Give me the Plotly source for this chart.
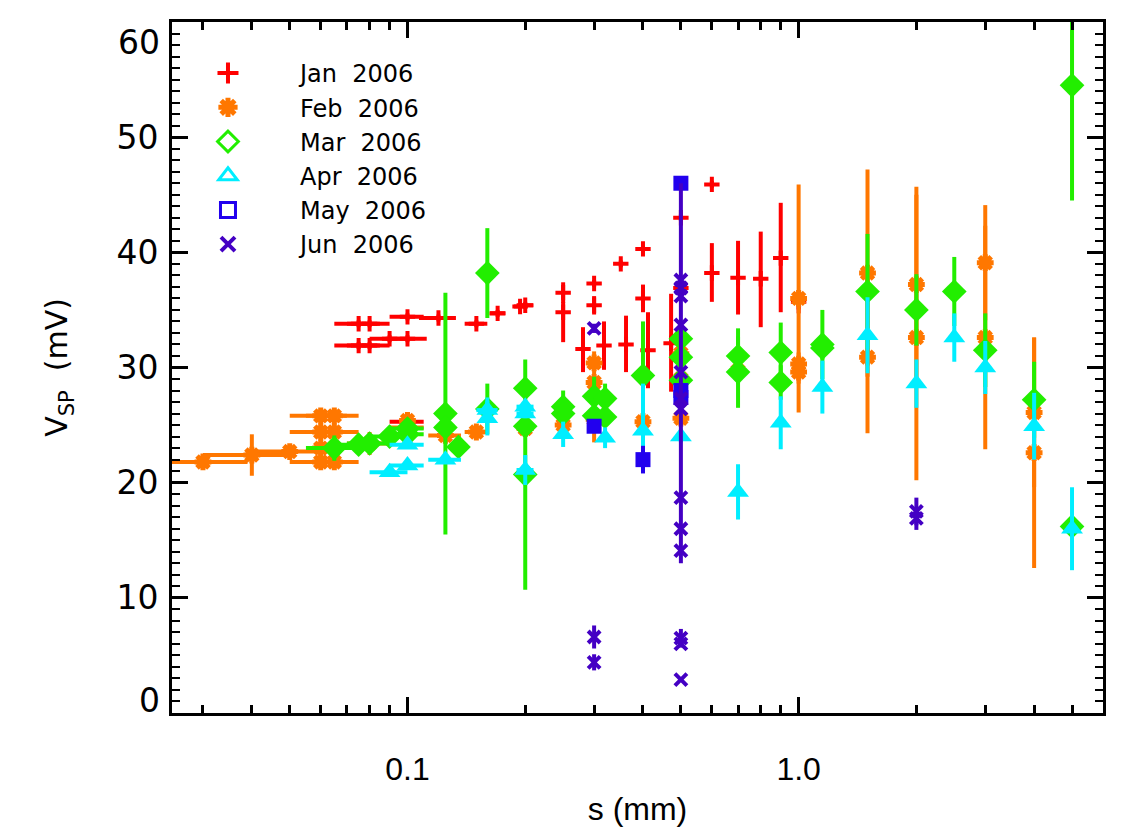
import plotly.graph_objects as go
import math

# ---------------- data ----------------
# Jan 2006
jan_s   = [0.075, 0.08, 0.075, 0.08, 0.09, 0.1, 0.1, 0.12, 0.15, 0.17, 0.194, 0.2, 0.1,
           0.25, 0.25, 0.281, 0.3, 0.3, 0.318, 0.351, 0.362, 0.4, 0.4, 0.412, 0.472,
           0.5, 0.5, 0.6, 0.6, 0.7, 0.8, 0.9, 1.0]
jan_v   = [33.8, 33.8, 31.9, 31.9, 32.5, 32.5, 34.4, 34.3, 33.8, 34.7, 35.3, 35.4, 25.3,
           36.5, 34.8, 31.6, 37.3, 35.4, 31.9, 39.0, 32.0, 40.3, 36.0, 31.5, 32.1,
           43.0, 36.9, 45.9, 38.2, 37.8, 37.7, 39.5, 35.7]
jan_ep  = [0.3, 0.3, 0.3, 0.3, 0.3, 0.3, 0.3, 0.3, 0.3, 0.3, 0.3, 0.3, 0.2,
           0.9, 0.9, 1.9, 0.3, 0.8, 2.1, 0.3, 2.5, 0.3, 1.2, 3.3, 4.3,
           0.3, 0.5, 0.3, 2.6, 3.2, 4.1, 4.8, 1.0]
jan_em  = [0.3, 0.3, 0.3, 0.3, 0.3, 0.3, 0.3, 0.3, 0.3, 0.3, 0.3, 0.3, 0.2,
           0.9, 2.6, 2.0, 0.3, 0.8, 2.1, 0.3, 2.4, 0.3, 1.2, 3.3, 4.2,
           0.3, 0.5, 0.3, 2.5, 3.2, 4.2, 4.7, 1.0]
jan_ex  = [0.01, 0.01, 0.01, 0.01, 0.01, 0.012, 0.01, 0.013, 0.01, 0.008, 0.007, 0.01, 0.01,
           0, 0, 0, 0, 0, 0, 0, 0, 0, 0, 0, 0, 0, 0, 0, 0, 0, 0, 0, 0]

# Feb 2006
feb_s   = [0.03, 0.04, 0.05, 0.06, 0.065, 0.06, 0.065, 0.06, 0.065, 0.06, 0.065, 0.08,
           0.1, 0.1, 0.125, 0.15, 0.2, 0.25, 0.3, 0.3, 0.3, 0.4, 0.5, 0.5, 0.5, 0.7,
           1.0, 1.0, 1.0, 1.5, 1.5, 2.0, 2.0, 3.0, 3.0, 4.0, 4.0]
feb_v   = [21.8, 22.4, 22.7, 25.8, 25.8, 24.4, 24.4, 23.0, 23.0, 21.8, 21.8, 23.4,
           25.4, 24.8, 24.1, 24.4, 24.7, 25.0, 30.4, 28.7, 25.5, 25.3, 31.2, 29.0, 25.6, 29.7,
           36.0, 30.3, 29.6, 38.2, 30.9, 37.2, 32.6, 39.1, 32.6, 26.1, 22.6]
feb_ey  = [0.3, 1.8, 0.3, 0.6, 0.6, 0.6, 0.6, 0.3, 0.3, 0.5, 0.5, 1.0,
           0.6, 0.3, 0.3, 0.3, 0.3, 0.5, 1.0, 0.7, 2.0, 0.5, 0.5, 0.5, 0.5, 0.5,
           9.9, 1.0, 1.0, 9.0, 6.6, 8.5, 12.4, 5.0, 9.7, 6.5, 10.0]
feb_exm = [0.006, 0.01, 0.01, 0.01, 0.01, 0.01, 0.01, 0, 0, 0.01, 0.01, 0.01,
           0, 0.01, 0.012, 0.01, 0.01, 0, 0, 0, 0, 0, 0, 0, 0, 0,
           0, 0, 0, 0, 0, 0, 0, 0, 0, 0, 0]
feb_exp = [0.009, 0.01, 0.01, 0.01, 0.01, 0.01, 0.01, 0, 0, 0.01, 0.01, 0.01,
           0, 0.01, 0.012, 0.01, 0.01, 0, 0, 0, 0, 0, 0, 0, 0, 0,
           0, 0, 0, 0, 0, 0, 0, 0, 0, 0, 0]

# Mar 2006
mar_s   = [0.065, 0.075, 0.08, 0.09, 0.1, 0.1, 0.125, 0.125, 0.135, 0.16, 0.16,
           0.2, 0.2, 0.2, 0.25, 0.25, 0.3, 0.3, 0.32, 0.32, 0.4, 0.5, 0.5, 0.5,
           0.7, 0.7, 0.9, 0.9, 1.15, 1.15, 1.5, 2.0, 2.5, 3.0, 4.0, 5.0, 5.0]
mar_v   = [23.0, 23.3, 23.4, 24.0, 24.2, 24.7, 26.0, 24.8, 23.1, 38.2, 26.4,
           28.2, 24.9, 20.7, 26.6, 26.0, 27.5, 25.8, 27.3, 25.7, 29.3, 32.5, 30.9, 28.9,
           31.0, 29.6, 31.3, 28.7, 32.0, 31.7, 36.6, 35.0, 36.6, 31.5, 27.2, 54.5, 16.2]
mar_ey  = [1.1, 0.3, 0.3, 0.3, 0.3, 0.3, 10.5, 0.5, 0.3, 3.9, 2.2,
           0.5, 0.5, 10.0, 1.4, 0.5, 1.7, 0.5, 1.3, 0.5, 4.7, 0.5, 0.5, 0.5,
           2.4, 3.1, 2.6, 1.5, 3.0, 1.0, 5.0, 3.1, 3.0, 3.2, 3.3, 10.0, 0.5]
mar_ex  = [0.01, 0.008, 0.01, 0.01, 0.01, 0.01, 0, 0, 0.006, 0, 0,
           0, 0, 0, 0, 0, 0, 0, 0, 0, 0, 0, 0, 0,
           0, 0, 0, 0, 0, 0, 0, 0, 0, 0, 0, 0, 0]

# Apr 2006
apr_s   = [0.09, 0.1, 0.1, 0.125, 0.16, 0.16, 0.2, 0.2, 0.2, 0.25, 0.32, 0.4, 0.5,
           0.7, 0.9, 1.15, 1.5, 2.0, 2.5, 3.0, 4.0, 5.0]
apr_v   = [20.9, 21.5, 23.3, 22.0, 26.3, 25.6, 26.6, 26.0, 21.1, 24.2, 23.9, 24.5, 24.0,
           19.2, 25.2, 28.3, 32.8, 28.6, 32.6, 30.0, 24.9, 16.0]
apr_ep  = [0.3, 0.3, 0.3, 0.3, 1.1, 1.5, 0.4, 0.4, 1.3, 1.1, 0.9, 4.1, 0.5,
           2.4, 2.3, 2.3, 3.3, 2.1, 2.1, 2.3, 2.9, 3.6]
apr_em  = [0.3, 0.3, 0.3, 0.3, 1.1, 1.5, 0.4, 0.4, 1.3, 1.1, 0.9, 1.4, 0.5,
           2.4, 2.3, 2.3, 3.3, 2.1, 2.1, 2.3, 2.9, 3.6]
apr_ex  = [0.01, 0.01, 0.01, 0.012, 0.01, 0, 0.01, 0.01, 0.01, 0, 0, 0, 0,
           0, 0, 0, 0, 0, 0, 0, 0, 0]

# May 2006
may_s   = [0.3, 0.4, 0.5, 0.5, 0.5]
may_v   = [24.9, 22.0, 46.0, 28.0, 27.4]
may_ey  = [0.5, 1.2, 0.3, 0.5, 0.5]

# Jun 2006
jun_s   = [0.3, 0.3, 0.3, 0.5, 0.5, 0.5, 0.5, 0.5, 0.5, 0.5, 0.5, 0.5, 0.5,
           0.5, 0.5, 0.5, 2.0, 2.0]
jun_v   = [33.4, 6.6, 4.4, 37.6, 36.9, 36.2, 33.7, 29.6, 27.3, 26.4, 18.7, 16.0, 14.1,
           6.5, 6.0, 2.9, 17.5, 16.9]
jun_ep  = [0.4, 1.0, 0.7, 0.3, 0.3, 0.3, 0.3, 16.4, 0.3, 0.3, 0.3, 0.3, 0.3,
           0.8, 0.3, 0.2, 1.2, 1.0]
jun_em  = [0.4, 1.0, 0.7, 0.3, 0.3, 0.3, 0.3, 16.6, 0.3, 0.3, 0.3, 0.3, 0.3,
           0.8, 0.3, 0.2, 1.2, 1.0]

series_names = ["Jan\u00a0\u00a02006", "Feb\u00a0\u00a02006", "Mar\u00a0\u00a02006",
                "Apr\u00a0\u00a02006", "May\u00a0\u00a02006", "Jun\u00a0\u00a02006"]
x_major = [0.1, 1.0]
x_major_text = ["0.1", "1.0"]
x_minor = [0.03, 0.04, 0.05, 0.06, 0.07, 0.08, 0.09,
           0.2, 0.3, 0.4, 0.5, 0.6, 0.7, 0.8, 0.9, 2, 3, 4, 5]
y_inner_ticks = [10, 20, 30, 40, 50]
y_end_ticks = [0, 60]

# ---------------- styles ----------------
C_JAN = "#ff0000"
C_FEB = "#ff7700"
C_MAR = "#22ee00"
C_APR = "#00eeff"
C_MAY = "#2200ee"
C_JUN = "#4400c4"

def ebar(color, plus, minus=None):
    d = dict(type="data", array=plus, color=color, thickness=4, width=0, visible=True)
    if minus is not None:
        d["symmetric"] = False
        d["arrayminus"] = minus
    return d

fig = go.Figure()

fig.add_trace(go.Scatter(x=jan_s, y=jan_v, mode="markers", showlegend=False,
    marker=dict(symbol="cross-thin-open", size=11, color=C_JAN, line=dict(width=4, color=C_JAN)),
    error_y=ebar(C_JAN, jan_ep, jan_em), error_x=ebar(C_JAN, jan_ex)))
fig.add_trace(go.Scatter(x=feb_s, y=feb_v, mode="markers", showlegend=False,
    marker=dict(symbol="asterisk-open", size=14, color=C_FEB, line=dict(width=5, color=C_FEB)),
    error_y=ebar(C_FEB, feb_ey), error_x=ebar(C_FEB, feb_exp, feb_exm)))
fig.add_trace(go.Scatter(x=mar_s, y=mar_v, mode="markers", showlegend=False,
    marker=dict(symbol="diamond", size=19, color=C_MAR),
    error_y=ebar(C_MAR, mar_ey), error_x=ebar(C_MAR, mar_ex)))
fig.add_trace(go.Scatter(x=apr_s, y=apr_v, mode="markers", showlegend=False,
    marker=dict(symbol="triangle-up", size=19, color=C_APR),
    error_y=ebar(C_APR, apr_ep, apr_em), error_x=ebar(C_APR, apr_ex)))
fig.add_trace(go.Scatter(x=may_s, y=may_v, mode="markers", showlegend=False,
    marker=dict(symbol="square", size=15, color=C_MAY),
    error_y=ebar(C_MAY, may_ey)))
fig.add_trace(go.Scatter(x=jun_s, y=jun_v, mode="markers", showlegend=False,
    marker=dict(symbol="x-thin-open", size=12, color=C_JUN, line=dict(width=4, color=C_JUN)),
    error_y=ebar(C_JUN, jun_ep, jun_em)))

# legend entries (open symbols like the reference legend)
leg_specs = [
    (series_names[0], "cross-thin-open", C_JAN, 15, 4),
    (series_names[1], "asterisk-open", C_FEB, 16, 5),
    (series_names[2], "diamond-open", C_MAR, 16, 3),
    (series_names[3], "triangle-up-open", C_APR, 16, 3),
    (series_names[4], "square-open", C_MAY, 15, 3),
    (series_names[5], "x-thin-open", C_JUN, 14, 4),
]
for name, sym, col, sz, lw in leg_specs:
    fig.add_trace(go.Scatter(x=[None], y=[None], mode="markers", name=name,
        marker=dict(symbol=sym, size=sz, color=col, line=dict(width=lw, color=col))))

tick_font = dict(family="DejaVu Sans", size=33, color="black")

# page body has an 8px margin: figure is sized to fit the 1140x840 window
fig.update_layout(
    width=1132, height=832,
    margin=dict(l=164, r=37, t=14, b=127, autoexpand=False),
    paper_bgcolor="white", plot_bgcolor="white",
    font=dict(family="DejaVu Sans, Liberation Sans", color="black"),
    legend=dict(x=-0.0172, y=0.958, xanchor="left", yanchor="top",
                bgcolor="rgba(0,0,0,0)", font=dict(size=24, family="DejaVu Sans"),
                itemwidth=134, tracegroupgap=0, itemsizing="trace"),
    xaxis=dict(type="log", range=[math.log10(0.025), math.log10(6)], automargin=False,
               tickmode="array", tickvals=x_major, ticktext=x_major_text,
               ticks="inside", ticklen=16, tickwidth=3, tickcolor="black",
               minor=dict(tickmode="array", tickvals=x_minor, ticks="inside",
                          ticklen=8, tickwidth=3, tickcolor="black", showgrid=False),
               showline=True, linewidth=3, linecolor="black", mirror="allticks",
               showgrid=False, zeroline=False,
               tickfont=dict(family="Liberation Sans Narrow, Liberation Sans", size=32),
               ticklabelstandoff=26,
               title=dict(text="s (mm)", font=dict(family="Liberation Sans Narrow, Liberation Sans", size=32),
                          standoff=12)),
    yaxis=dict(range=[0, 60], tickmode="array", tickvals=y_end_ticks + y_inner_ticks,
               ticktext=["", ""] + [str(v) for v in y_inner_ticks], automargin=False,
               ticks="inside", ticklen=16, tickwidth=3, tickcolor="black",
               minor=dict(tickmode="linear", tick0=0, dtick=1, ticks="inside", ticklen=8,
                          tickwidth=2, tickcolor="black", showgrid=False),
               showline=True, linewidth=3, linecolor="black", mirror="allticks",
               showgrid=False, zeroline=False,
               tickfont=tick_font, ticklabelstandoff=4,
               title=dict(text="V<sub>SP</sub>  (mV)", font=dict(family="DejaVu Sans", size=30),
                          standoff=40)),
)

# end labels of the y axis sit inside the axis span, as in the reference
for v, anchor, ys in zip(y_end_ticks, ["bottom", "top"], [-9, 1]):
    fig.add_annotation(x=0, xref="paper", y=v, yref="y", text=str(v), showarrow=False,
                       xanchor="right", yanchor=anchor, xshift=-10, yshift=ys, font=tick_font)

fig.write_html("out.html")
